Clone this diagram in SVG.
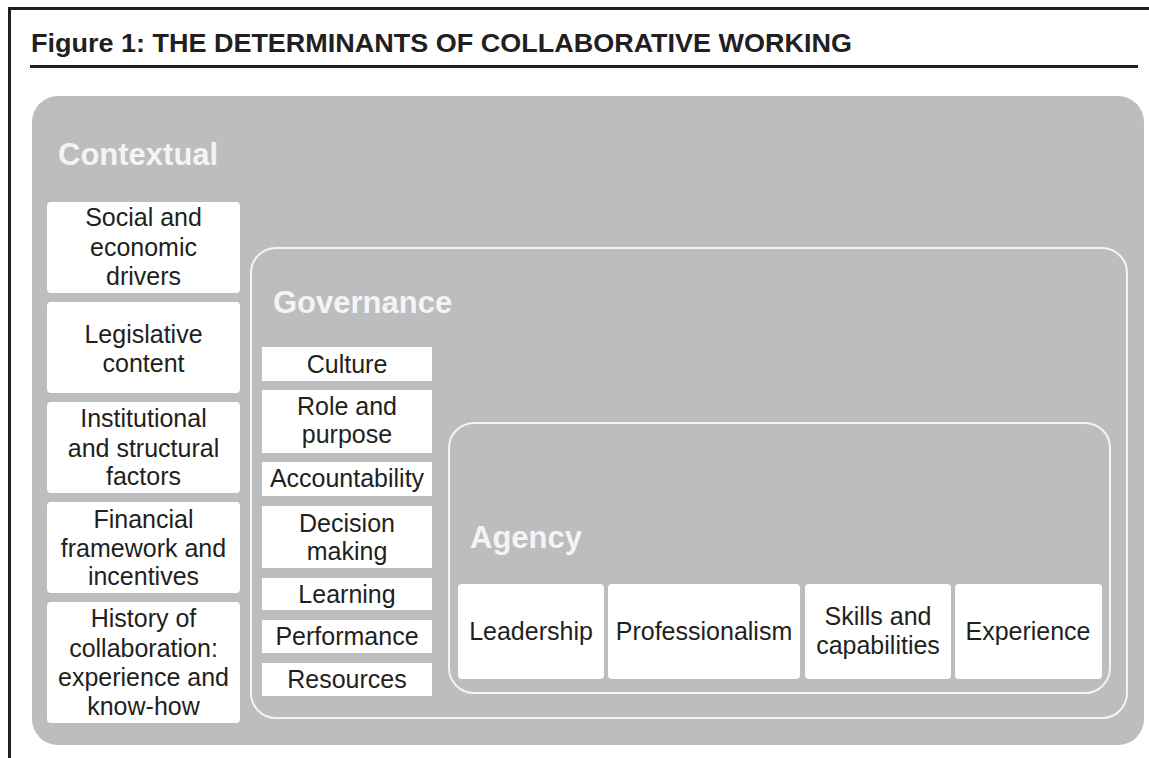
<svg xmlns="http://www.w3.org/2000/svg" width="1149" height="758" viewBox="0 0 1149 758">
<style>
.t{font-family:"Liberation Sans",Arial,sans-serif;font-size:25px;fill:#231f20;text-anchor:middle}
.h{font-family:"Liberation Sans",Arial,sans-serif;font-size:31px;font-weight:bold;fill:#f4f4f5}
.box{fill:#ffffff}
.frame{fill:none;stroke:#f4f4f5;stroke-width:2}
</style>
<rect x="0" y="0" width="1149" height="758" fill="#ffffff"/>
<path d="M9.5,758 V8.5 H1149" fill="none" stroke="#231f20" stroke-width="3"/>
<text x="31" y="52" font-family="Liberation Sans,Arial,sans-serif" font-size="25" font-weight="bold" fill="#231f20" textLength="821" lengthAdjust="spacingAndGlyphs">Figure 1: THE DETERMINANTS OF COLLABORATIVE WORKING</text>
<line x1="30" y1="66.5" x2="1138" y2="66.5" stroke="#231f20" stroke-width="3"/>

<g id="contextual">
<rect x="32" y="96" width="1112" height="649" rx="26" fill="#bcbdbf"/>
<text class="h" x="58" y="165" font-size="32">Contextual</text>
</g>
<g id="ctx-social"><rect class="box" x="47" y="202" width="193" height="91" rx="4"/><text class="t" x="143.5" y="226">Social and</text><text class="t" x="143.5" y="256">economic</text><text class="t" x="143.5" y="285">drivers</text></g>
<g id="ctx-legislative"><rect class="box" x="47" y="302" width="193" height="91" rx="4"/><text class="t" x="143.5" y="343">Legislative</text><text class="t" x="143.5" y="372">content</text></g>
<g id="ctx-institutional"><rect class="box" x="47" y="402" width="193" height="91" rx="4"/><text class="t" x="143.5" y="427">Institutional</text><text class="t" x="143.5" y="457">and structural</text><text class="t" x="143.5" y="485">factors</text></g>
<g id="ctx-financial"><rect class="box" x="47" y="502" width="193" height="91" rx="4"/><text class="t" x="143.5" y="528">Financial</text><text class="t" x="143.5" y="557">framework and</text><text class="t" x="143.5" y="585">incentives</text></g>
<g id="ctx-history"><rect class="box" x="47" y="602" width="193" height="121" rx="4"/><text class="t" x="143.5" y="627">History of</text><text class="t" x="143.5" y="657">collaboration:</text><text class="t" x="143.5" y="686">experience and</text><text class="t" x="143.5" y="715">know-how</text></g>

<g id="governance">
<rect class="frame" x="251" y="248" width="876" height="470" rx="25"/>
<text class="h" x="273" y="313">Governance</text>
</g>
<g id="gov-culture"><rect class="box" x="262" y="347" width="170" height="34"/><text class="t" x="347" y="373">Culture</text></g>
<g id="gov-role"><rect class="box" x="262" y="390" width="170" height="63"/><text class="t" x="347" y="415">Role and</text><text class="t" x="347" y="443">purpose</text></g>
<g id="gov-accountability"><rect class="box" x="262" y="462" width="170" height="34"/><text class="t" x="347" y="487">Accountability</text></g>
<g id="gov-decision"><rect class="box" x="262" y="506" width="170" height="62"/><text class="t" x="347" y="532">Decision</text><text class="t" x="347" y="560">making</text></g>
<g id="gov-learning"><rect class="box" x="262" y="578" width="170" height="32"/><text class="t" x="347" y="603">Learning</text></g>
<g id="gov-performance"><rect class="box" x="262" y="620" width="170" height="33"/><text class="t" x="347" y="645">Performance</text></g>
<g id="gov-resources"><rect class="box" x="262" y="663" width="170" height="33"/><text class="t" x="347" y="688">Resources</text></g>

<g id="agency">
<rect class="frame" x="449" y="423" width="661" height="270" rx="25"/>
<text class="h" x="470" y="548">Agency</text>
</g>
<g id="ag-leadership"><rect class="box" x="458" y="584" width="146" height="95" rx="4"/><text class="t" x="531" y="640">Leadership</text></g>
<g id="ag-professionalism"><rect class="box" x="608" y="584" width="192" height="95" rx="4"/><text class="t" x="704" y="640">Professionalism</text></g>
<g id="ag-skills"><rect class="box" x="805" y="584" width="146" height="95" rx="4"/><text class="t" x="878" y="625">Skills and</text><text class="t" x="878" y="654">capabilities</text></g>
<g id="ag-experience"><rect class="box" x="955" y="584" width="147" height="95" rx="4"/><text class="t" x="1028" y="640">Experience</text></g>

<g id="connectors"/>
</svg>
